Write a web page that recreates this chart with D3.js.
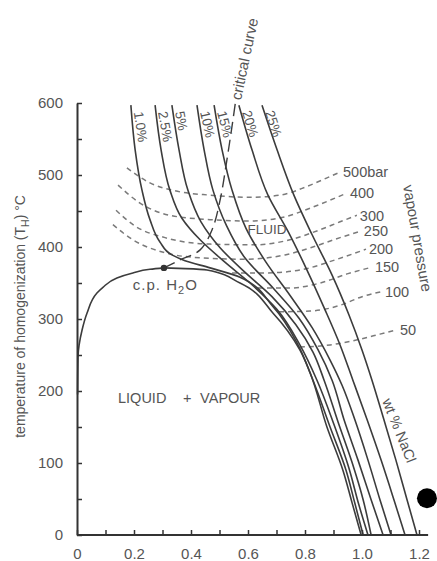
<!DOCTYPE html>
<html>
<head>
<meta charset="utf-8">
<script src="https://cdn.jsdelivr.net/npm/d3@7"></script>
<style>
  html, body { margin: 0; padding: 0; background: #fff; }
  svg { display: block; }
  text { font-family: "Liberation Sans", Arial, Helvetica, sans-serif; fill: #555; }
</style>
</head>
<body>
<svg id="chart" width="437" height="561"></svg>
<script>
// ---- axis ticks ----
const densityTicks = d3.range(0, 13).map(i => i / 10);   // g/cm3
const tempTicks = d3.range(0, 601, 50);                   // °C

// ---- liquid–vapour curve of pure H2O, [density, T] ----
const h2oVapour = [
  [0.002, 195], [0.0035, 247], [0.018, 285], [0.035, 308], [0.07, 336], [0.091, 344],
  [0.14, 357], [0.196, 364], [0.256, 369], [0.305, 371]
];
const h2oLiquid = [
  [0.305, 371], [0.38, 370], [0.456, 368], [0.572, 350], [0.688, 308], [0.782, 257],
  [0.818, 225], [0.877, 150], [0.933, 90], [0.965, 45], [0.997, 0]
];
const criticalPointH2O = [0.305, 371];

// ---- isopleths, wt % NaCl, [density, T] ----
const salinityLabels = ["1.0%", "2.5%", "5%", "10%", "15%", "20%", "25%"];
const iso1_0 = [[0.189,597],[0.204,535],[0.228,479],[0.256,438],[0.291,407],[0.333,389],[0.379,381],[0.467,371],[0.572,358],[0.688,317],[0.772,267],[0.828,215],[0.888,150],[0.944,90],[0.975,44],[1.004,0]];
const iso2_5 = [[0.274,597],[0.295,535],[0.326,479],[0.368,440],[0.432,410],[0.519,379],[0.607,350],[0.702,313],[0.782,264],[0.842,215],[0.902,153],[0.954,93],[0.989,42],[1.021,0]];
const iso5   = [[0.333,597],[0.358,535],[0.389,479],[0.435,435],[0.502,399],[0.589,365],[0.684,331],[0.768,292],[0.828,254],[0.867,215],[0.916,157],[0.965,101],[1.004,49],[1.032,0]];
const iso10  = [[0.421,597],[0.446,535],[0.477,479],[0.523,431],[0.589,385],[0.688,343],[0.779,301],[0.846,257],[0.895,215],[0.937,160],[0.986,104],[1.032,49],[1.074,0]];
const iso15  = [[0.481,597],[0.509,535],[0.544,479],[0.593,426],[0.663,379],[0.747,333],[0.825,288],[0.888,243],[0.930,208],[0.975,160],[1.021,104],[1.063,49],[1.102,0]];
const iso20  = [[0.568,597],[0.614,535],[0.670,472],[0.740,422],[0.807,368],[0.870,313],[0.923,264],[0.968,215],[1.018,160],[1.067,104],[1.112,49],[1.151,0]];
const iso25  = [[0.649,597],[0.702,535],[0.761,472],[0.825,417],[0.895,361],[0.954,306],[1.0,257],[1.035,215],[1.077,160],[1.119,104],[1.158,49],[1.193,0]];
const isopleths = [iso1_0, iso2_5, iso5, iso10, iso15, iso20, iso25];
const salinityLabelAngles = [82, 80, 79, 77, 76, 73, 72];

// ---- critical curve of the NaCl–H2O system ----
const criticalCurve = [[0.305,371],[0.361,382],[0.432,396],[0.474,424],[0.502,465],[0.526,521],[0.547,576],[0.558,607]];

// ---- isobars (vapour pressure) ----
const pressureLabels = ["500bar", "400", "300", "250", "200", "150", "100", "50"];
const bar500 = [[0.175,510],[0.256,489],[0.344,478],[0.467,472],[0.607,469],[0.712,472],[0.800,483],[0.860,493],[0.923,504]];
const bar400 = [[0.144,486],[0.221,461],[0.326,444],[0.467,438],[0.607,436],[0.730,442],[0.818,454],[0.888,465],[0.947,475]];
const bar300 = [[0.137,451],[0.204,429],[0.309,413],[0.467,404],[0.625,403],[0.747,410],[0.853,424],[0.923,435],[0.982,444]];
const bar250 = [[0.126,431],[0.196,410],[0.309,392],[0.432,385],[0.589,383],[0.730,389],[0.835,401],[0.923,413],[0.996,422]];
const bar200 = [[0.544,364],[0.660,364],[0.782,368],[0.905,382],[1.014,397]];
const bar150 = [[0.635,343],[0.747,343],[0.853,350],[0.951,363],[1.035,372]];
const bar100 = [[0.709,310],[0.818,311],[0.923,319],[1.0,331],[1.070,338]];
const bar50  = [[0.782,261],[0.888,264],[0.993,272],[1.063,279],[1.123,285]];
const isobars = [bar500, bar400, bar300, bar250, bar200, bar150, bar100, bar50];

// ---- field labels, [density, T] ----
const fieldLabels = [
  { text: "FLUID", at: [0.598, 425] },
  { text: "LIQUID", at: [0.144, 190] },
  { text: "+", at: [0.372, 190] },
  { text: "VAPOUR", at: [0.432, 190] }
];
const cpLabelAt = [0.196, 340];
const nacLabelAt = [1.07, 186];
const pressureTitleAt = [1.144, 485];
const critLabelAt = [0.575, 603];
const marker = [1.228, 51];

// ---- scales ----
const svg = d3.select("#chart");
const x = d3.scaleLinear().domain([0, 1.2]).range([77, 419]);
const y = d3.scaleLinear().domain([0, 600]).range([535, 103]);

const smooth = d3.line().x(d => x(d[0])).y(d => y(d[1])).curve(d3.curveCatmullRom.alpha(0.5));
const alongT = d3.line().x(d => x(d[0])).y(d => y(d[1])).curve(d3.curveMonotoneY);
const alongD = d3.line().x(d => x(d[0])).y(d => y(d[1])).curve(d3.curveMonotoneX);

const ink = "#3c3c3c";

// ---- isobars (dashed) ----
svg.append("g").selectAll("path").data(isobars).join("path")
  .attr("d", alongD)
  .attr("fill", "none")
  .attr("stroke", "#7a7a7a")
  .attr("stroke-width", 1.5)
  .attr("stroke-dasharray", "5,4");

svg.append("g").selectAll("text").data(isobars).join("text")
  .attr("x", d => x(d[d.length - 1][0]) + 3)
  .attr("y", d => y(d[d.length - 1][1]))
  .attr("dy", "0.36em")
  .style("font-size", "14.5px")
  .text((d, i) => pressureLabels[i]);

// ---- critical curve (long dashes) ----
svg.append("path")
  .attr("d", smooth(criticalCurve))
  .attr("fill", "none")
  .attr("stroke", ink)
  .attr("stroke-width", 1.4)
  .attr("stroke-dasharray", "12,6");

svg.append("text")
  .attr("transform", `translate(${x(critLabelAt[0])},${y(critLabelAt[1])}) rotate(-78)`)
  .style("font-size", "15px")
  .text("critical curve");

// ---- H2O liquid–vapour curve: vapour branch drawn from c.p. downwards, then liquid branch ----
svg.append("g").selectAll("path")
  .data([h2oVapour.slice().reverse(), h2oLiquid])
  .join("path")
  .attr("d", alongT)
  .attr("fill", "none")
  .attr("stroke", ink)
  .attr("stroke-width", 1.6);

// ---- isopleths ----
svg.append("g").selectAll("path").data(isopleths).join("path")
  .attr("d", alongT)
  .attr("fill", "none")
  .attr("stroke", ink)
  .attr("stroke-width", 1.6);

svg.append("g").selectAll("text").data(isopleths).join("text")
  .attr("transform", (d, i) => `translate(${x(d[0][0]) + 3},${y(d[0][1]) + 7}) rotate(${salinityLabelAngles[i]})`)
  .style("font-size", "13.5px")
  .text((d, i) => salinityLabels[i]);

// ---- critical point of H2O ----
svg.append("circle")
  .attr("cx", x(criticalPointH2O[0]))
  .attr("cy", y(criticalPointH2O[1]))
  .attr("r", 3.2)
  .attr("fill", "#333");

const cp = svg.append("text")
  .attr("x", x(cpLabelAt[0]))
  .attr("y", y(cpLabelAt[1]))
  .style("font-size", "15px")
  .style("letter-spacing", "1px");
cp.append("tspan").text("c.p. H");
cp.append("tspan").attr("dy", "4").style("font-size", "11px").text("2");
cp.append("tspan").attr("dy", "-4").text("O");

// ---- field labels ----
svg.append("g").selectAll("text").data(fieldLabels).join("text")
  .attr("x", d => x(d.at[0]))
  .attr("y", d => y(d.at[1]))
  .attr("dy", "0.36em")
  .style("font-size", d => d.text === "FLUID" ? "13.5px" : "14.5px")
  .text(d => d.text);

svg.append("text")
  .attr("transform", `translate(${x(nacLabelAt[0])},${y(nacLabelAt[1])}) rotate(68)`)
  .style("font-size", "14.5px")
  .text("wt % NaCl");

svg.append("text")
  .attr("transform", `translate(${x(pressureTitleAt[0])},${y(pressureTitleAt[1])}) rotate(80)`)
  .style("font-size", "15px")
  .text("vapour pressure");

// ---- axes ----
const xAxis = svg.append("g")
  .attr("transform", `translate(0,${y(0)})`)
  .call(d3.axisBottom(x)
    .tickValues(densityTicks)
    .tickSizeInner(-5)
    .tickSizeOuter(0)
    .tickPadding(13)
    .tickFormat(d => {
      const k = Math.round(d * 10);
      if (k % 2 !== 0) return "";
      return k === 0 ? "0" : d3.format(".1f")(d);
    }));
xAxis.select(".domain").attr("d", `M${x(0)},0H${x(1.232)}`);

const yAxis = svg.append("g")
  .attr("transform", `translate(${x(0)},0)`)
  .call(d3.axisLeft(y)
    .tickValues(tempTicks)
    .tickSizeInner(-5)
    .tickSizeOuter(0)
    .tickPadding(14)
    .tickFormat(d => d % 100 === 0 ? d : ""));

[xAxis, yAxis].forEach(g => {
  g.select(".domain").attr("stroke", "#333").attr("stroke-width", 2);
  g.selectAll(".tick line").attr("stroke", "#333").attr("stroke-width", 1.5);
  g.selectAll(".tick text")
    .attr("fill", "#555")
    .style("font-family", "'Liberation Sans', Arial, sans-serif")
    .style("font-size", "15px");
});

// ---- axis title ----
const yt = svg.append("text")
  .attr("transform", `translate(25,${y(135)}) rotate(-90)`)
  .style("font-size", "14px");
yt.append("tspan").text("temperature of homogenization (T");
yt.append("tspan").attr("dy", "4").style("font-size", "10.5px").text("H");
yt.append("tspan").attr("dy", "-4").text(") \u00B0C");

// ---- bullet marker ----
svg.append("circle")
  .attr("cx", x(marker[0]))
  .attr("cy", y(marker[1]))
  .attr("r", 10)
  .attr("fill", "#000");
</script>
</body>
</html>
